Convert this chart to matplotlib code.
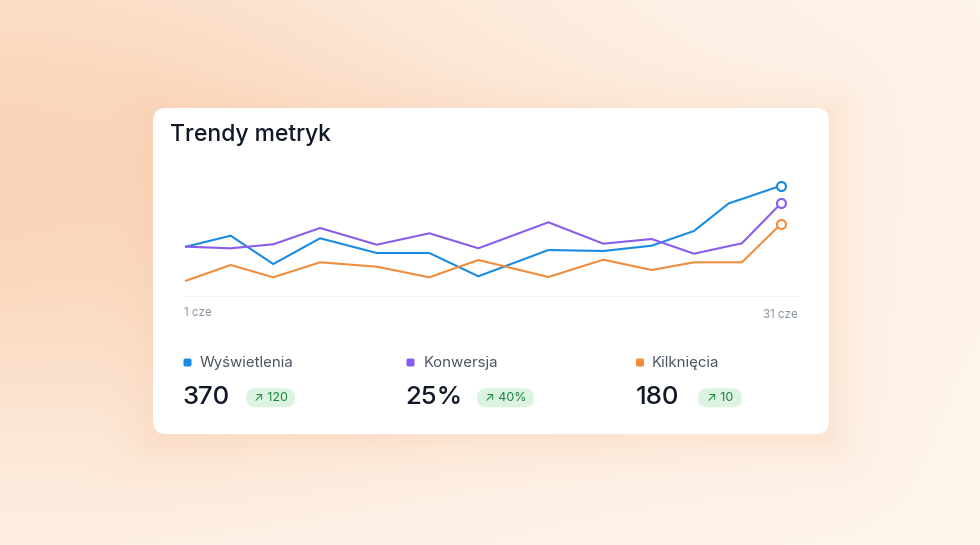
import numpy as np
import matplotlib.pyplot as plt
from matplotlib.patches import FancyBboxPatch

plt.rcParams['font.family'] = ['Inter', 'DejaVu Sans']

# dane wykresu (dni czerwca i wartości serii)
days = [1, 3.25, 5.4, 7.76, 10.62, 13.27, 15.74, 19.27, 22.04, 24.48, 26.61, 28.37, 29.03, 31]
views = [50.3, 61.3, 33, 58.7, 44, 44, 20.7, 47, 46, 51.3, 66, 93.7, 98, 111.3]
conv = [50.3, 48.7, 52.7, 69, 52.3, 63.7, 48.7, 74.7, 53.3, 58, 43.3, 50.9, 53.7, 93.7]
clicks = [16.3, 32, 19.7, 34.7, 30.3, 19.7, 37, 20, 37.3, 27, 34.7, 34.7, 34.7, 73]

names = ['Wyświetlenia', 'Konwersja', 'Kilknięcia']
totals = ['370', '25%', '180']
changes = ['120', '40%', '10']
colors = ['#1a8be2', '#8a5cec', '#f08d3c']
x_labels = ['1 cze', '31 cze']

W, H = 980, 545
fig = plt.figure(figsize=(W / 100, H / 100), dpi=100)

# tło z gradientem
bg = fig.add_axes([0, 0, 1, 1])
bg.set_xlim(0, W)
bg.set_ylim(H, 0)
bg.axis('off')

xx, yy = np.meshgrid(np.arange(W), np.arange(H))
base = np.array([254, 245, 236]) / 255
peach = np.array([250, 212, 184]) / 255
w = np.exp(-(((xx + 30) / 560) ** 2 + ((yy - 170) / 290) ** 2))
w = np.clip(w, 0, 1)[..., None]
img = base * (1 - w) + peach * w

# miękki, ciepły cień karty
cx0, cy0, cx1, cy1 = 153, 108, 829, 434
dx = np.maximum(np.maximum(cx0 - xx, xx - cx1), 0)
dy = np.maximum(np.maximum(cy0 + 6 - yy, yy - cy1 - 6), 0)
d = np.hypot(dx, dy)
glow = (0.24 * np.exp(-d / 26))[..., None]
shadow_col = np.array([246, 190, 152]) / 255
img = img * (1 - glow) + shadow_col * glow
bg.imshow(img, extent=(0, W, H, 0), zorder=0, aspect='auto')

card = FancyBboxPatch((cx0, cy0), cx1 - cx0, cy1 - cy0, boxstyle='round,pad=0,rounding_size=13',
                      fc='white', ec='none', zorder=2)
bg.add_patch(card)

bg.text(170, 135, 'Trendy metryk', fontsize=16.5, fontweight=500, color='#111827',
        va='center', ha='left', zorder=3)

# osie - etykiety
bg.text(184, 312.5, x_labels[0], fontsize=8.3, color='#8b94a3', va='center', ha='left', zorder=3)
bg.text(798, 315.5, x_labels[1], fontsize=8.3, color='#8b94a3', va='center', ha='right', zorder=3)

# legenda i wartości
sq_x = [187.5, 410.5, 640]
lab_x = [200, 424, 652]
num_x = [182, 405, 636]
badge = [(246, 295), (477, 534), (698, 742)]
for i in range(3):
    bg.add_patch(FancyBboxPatch((sq_x[i] - 4, 358.5), 8, 8, boxstyle='round,pad=0,rounding_size=1.8',
                                fc=colors[i], ec='none', zorder=3))
    bg.text(lab_x[i], 362.5, names[i], fontsize=10.8, color='#4b5563', va='center', ha='left', zorder=3)
    bg.text(num_x[i], 397.5, totals[i], fontsize=18.5, fontweight=500, color='#111827',
            va='center', ha='left', zorder=3)
    b0, b1 = badge[i]
    bg.add_patch(FancyBboxPatch((b0, 388.3), b1 - b0, 19, boxstyle='round,pad=0,rounding_size=9.5',
                                fc='#dcf3e2', ec='none', zorder=3))
    bg.text((b0 + b1) / 2, 398, '↗ ' + changes[i], fontsize=9, color='#18853d',
            va='center', ha='center', zorder=4)

# wykres liniowy
ax = fig.add_axes([184 / W, 1 - 297 / H, 614 / W, 132 / H])
ax.patch.set_alpha(0)
px_per_day = 595 / 30
ax.set_xlim(1 - 2 / px_per_day, 31 + 17 / px_per_day)
ax.set_ylim(0, 132)
ax.axhline(0, color='#eceef2', lw=1.2, zorder=1)
for series, c in zip([views, conv, clicks], colors):
    ax.plot(days, series, color=c, lw=1.5, zorder=3, solid_joinstyle='miter')
    ax.plot(days[-1], series[-1], 'o', ms=6.5, mfc='white', mec=c, mew=1.5, zorder=4, clip_on=False)
for s in ax.spines.values():
    s.set_visible(False)
ax.set_xticks([])
ax.set_yticks([])

fig.savefig('out.png', dpi=100)
